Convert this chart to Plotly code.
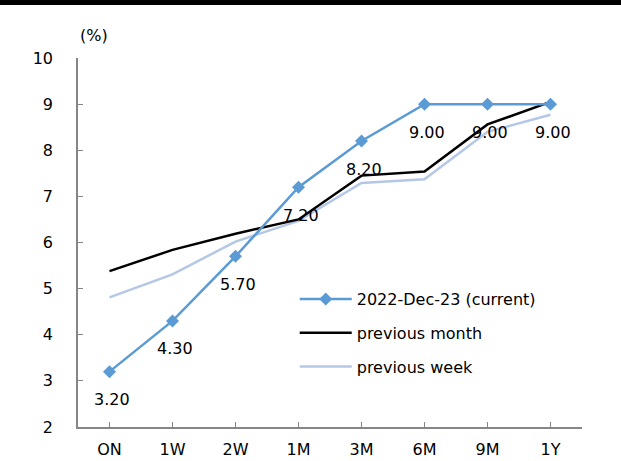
import plotly.graph_objects as go

tenors = ["ON", "1W", "2W", "1M", "3M", "6M", "9M", "1Y"]
current = [3.20, 4.30, 5.70, 7.20, 8.20, 9.00, 9.00, 9.00]
prev_month = [5.38, 5.84, 6.19, 6.50, 7.45, 7.54, 8.56, 9.05]
prev_week = [4.81, 5.31, 6.02, 6.47, 7.29, 7.37, 8.40, 8.77]

blue = "#5b9bd5"
light = "#b4c7e7"
font = "DejaVu Sans"

fig = go.Figure()
# draw order: week (bottom), month, current (top); legend order via legendrank
fig.add_trace(go.Scatter(
    x=tenors, y=prev_week, name="previous week", mode="lines",
    line=dict(color=light, width=2.5), legendrank=3, legendgroup="w",
))
fig.add_trace(go.Scatter(
    x=tenors, y=prev_month, name="previous month", mode="lines",
    line=dict(color="#000000", width=2.5), legendrank=2, legendgroup="m",
))
fig.add_trace(go.Scatter(
    x=tenors, y=current, name="2022-Dec-23 (current)",
    mode="lines+markers",
    line=dict(color=blue, width=2.5),
    marker=dict(symbol="diamond", size=10, color=blue),
    legendrank=1, legendgroup="c",
))

# value labels under the current curve
labels = [dict(
    x=t, y=v, text=f"{v:.2f}", xref="x", yref="y", showarrow=False,
    yshift=-28, xshift=2, font=dict(family=font, size=16, color="#000000"),
) for t, v in zip(tenors, current)]

labels.append(dict(
    text="(%)", xref="paper", yref="paper", x=(94 - 78) / 504,
    y=1 + (58 - 36) / 369, xanchor="center", yanchor="middle",
    showarrow=False, font=dict(family=font, size=16),
))

fig.update_layout(
    width=621, height=461,
    margin=dict(l=78, r=39, t=58, b=34),
    paper_bgcolor="white", plot_bgcolor="white",
    font=dict(family=font, size=16, color="#000000"),
    showlegend=True,
    legend=dict(x=0.43, y=1 - (282 - 58) / 369, xanchor="left", yanchor="top",
                bgcolor="rgba(0,0,0,0)", font=dict(size=16),
                traceorder="grouped", tracegroupgap=10, itemwidth=52),
    xaxis=dict(
        type="category", range=[-0.5, 7.5], automargin=False,
        showline=True, linecolor="#868686", linewidth=1.5,
        ticks="inside", ticklen=5, tickcolor="#868686",
        showgrid=False, zeroline=False, ticklabelstandoff=7,
    ),
    yaxis=dict(
        range=[2, 10], dtick=1, automargin=False,
        showline=True, linecolor="#868686", linewidth=1.5,
        ticks="inside", ticklen=5, tickcolor="#868686",
        showgrid=False, zeroline=False, ticklabelstandoff=20,
    ),
    annotations=labels,
    shapes=[dict(
        type="rect", xref="paper", yref="paper",
        x0=-78 / 504, x1=1 + 39 / 504,
        y0=1 + (58 - 5) / 369, y1=1 + 58 / 369,
        fillcolor="#000000", line=dict(width=0),
    )],
)

fig.write_html("out.html")
